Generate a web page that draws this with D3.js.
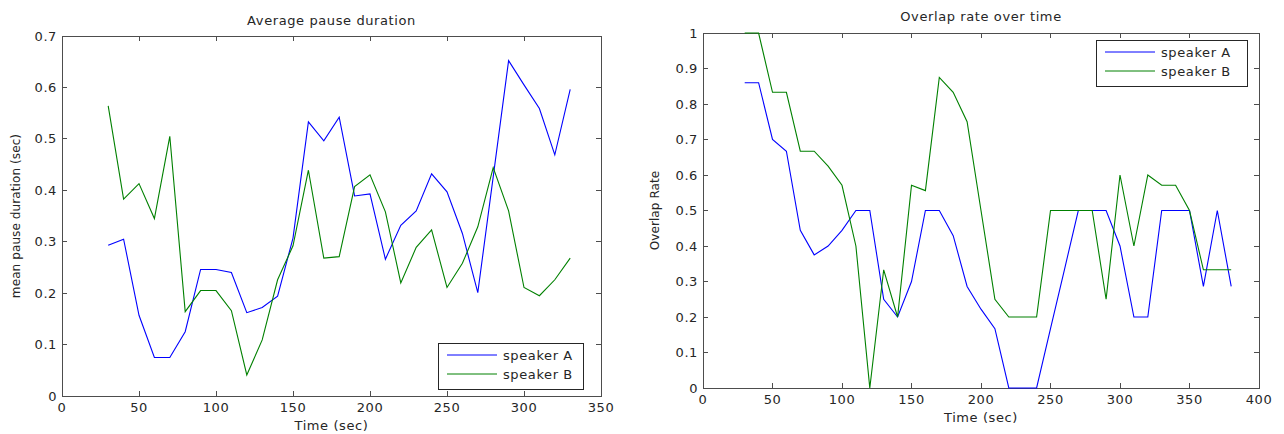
<!DOCTYPE html>
<html lang="en">
<head>
    <meta charset="UTF-8">
    <title>Average pause duration / Overlap rate over time</title>
    <script src="https://d3js.org/d3.v7.min.js"></script>
    <style>
        body {
            margin: 0;
            background: white;
        }
        svg text {
            font-family: "DejaVu Sans", Arial, sans-serif;
            font-size: 13px;
            letter-spacing: 0.6px;
            fill: #262626;
        }
        svg text.ylabel {
            font-size: 12px;
            letter-spacing: 0.1px;
        }
    </style>
</head>
<body>
    <svg width="1284" height="434"></svg>

    <script>
        // left chart: mean pause duration, one value every 10 s
        const pauseTimes = d3.range(30, 331, 10);
        const pauseA = [0.293, 0.305, 0.157, 0.075, 0.075, 0.125, 0.246, 0.246, 0.240, 0.162,
                        0.172, 0.194, 0.307, 0.533, 0.496, 0.542, 0.389, 0.393, 0.266, 0.332,
                        0.360, 0.432, 0.397, 0.316, 0.201, 0.426, 0.652, 0.605, 0.559, 0.469, 0.596];
        const pauseB = [0.564, 0.383, 0.413, 0.345, 0.505, 0.164, 0.205, 0.205, 0.166, 0.041,
                        0.109, 0.226, 0.292, 0.439, 0.268, 0.271, 0.407, 0.430, 0.358, 0.220,
                        0.289, 0.323, 0.211, 0.258, 0.329, 0.444, 0.360, 0.211, 0.195, 0.226, 0.268];
        const pauseXTicks = [0, 50, 100, 150, 200, 250, 300, 350];
        const pauseYTicks = [0, 0.1, 0.2, 0.3, 0.4, 0.5, 0.6, 0.7];

        // right chart: overlap rate
        const overlapTimes = d3.range(30, 381, 10);
        const overlapA = [0.86, 0.86, 0.70, 0.667, 0.444, 0.375, 0.40, 0.444, 0.50, 0.50,
                          0.25, 0.20, 0.30, 0.50, 0.50, 0.429, 0.286, 0.222, 0.167, 0, 0, 0,
                          0.167, 0.333, 0.50, 0.50, 0.50, 0.40, 0.20, 0.20, 0.50, 0.50, 0.50,
                          0.286, 0.50, 0.286];
        const overlapB = [1, 1, 0.833, 0.833, 0.667, 0.667, 0.625, 0.571, 0.40, 0,
                          0.333, 0.20, 0.571, 0.556, 0.875, 0.833, 0.75, 0.50, 0.25, 0.20, 0.20, 0.20,
                          0.50, 0.50, 0.50, 0.50, 0.25, 0.60, 0.40, 0.60, 0.571, 0.571, 0.50,
                          0.333, 0.333, 0.333];
        const overlapXTicks = [0, 50, 100, 150, 200, 250, 300, 350, 400];
        const overlapYTicks = [0, 0.1, 0.2, 0.3, 0.4, 0.5, 0.6, 0.7, 0.8, 0.9, 1];

        const seriesNames = ["speaker A", "speaker B"];
        const seriesColors = ["#0000ff", "#008000"];

        const svg = d3.select("svg");

        function drawPanel(p) {
            const x = d3.scaleLinear().domain(p.xDomain).range([p.left, p.right]);
            const y = d3.scaleLinear().domain(p.yDomain).range([p.bottom, p.top]);
            const g = svg.append("g");
            const axisColor = "#4d4d4d";

            // ticks pointing inward on all four sides (matlab style)
            const tickLen = 5;
            p.xTicks.forEach(t => {
                g.append("line").attr("x1", x(t)).attr("x2", x(t))
                 .attr("y1", p.bottom).attr("y2", p.bottom - tickLen)
                 .attr("stroke", axisColor).attr("shape-rendering", "crispEdges");
                g.append("line").attr("x1", x(t)).attr("x2", x(t))
                 .attr("y1", p.top).attr("y2", p.top + tickLen)
                 .attr("stroke", axisColor).attr("shape-rendering", "crispEdges");
                g.append("text").attr("x", x(t)).attr("y", p.bottom + 16)
                 .attr("text-anchor", "middle").text(t);
            });
            p.yTicks.forEach(t => {
                g.append("line").attr("x1", p.left).attr("x2", p.left + tickLen)
                 .attr("y1", y(t)).attr("y2", y(t))
                 .attr("stroke", axisColor).attr("shape-rendering", "crispEdges");
                g.append("line").attr("x1", p.right).attr("x2", p.right - tickLen)
                 .attr("y1", y(t)).attr("y2", y(t))
                 .attr("stroke", axisColor).attr("shape-rendering", "crispEdges");
                g.append("text").attr("x", p.left - 5).attr("y", y(t) + 4.5)
                 .attr("text-anchor", "end").text(t);
            });

            g.append("rect")
             .attr("x", p.left).attr("y", p.top)
             .attr("width", p.right - p.left).attr("height", p.bottom - p.top)
             .attr("fill", "none").attr("stroke", axisColor)
             .attr("shape-rendering", "crispEdges");

            const line = d3.line()
                .x(d => x(d[0]))
                .y(d => y(d[1]));

            p.series.forEach((vals, i) => {
                g.append("path")
                 .datum(p.times.map((t, k) => [t, vals[k]]))
                 .attr("d", line)
                 .attr("fill", "none")
                 .attr("stroke", seriesColors[i])
                 .attr("stroke-width", 1.1);
            });

            // titles and labels
            g.append("text").attr("x", (p.left + p.right) / 2).attr("y", p.titleY)
             .attr("text-anchor", "middle").text(p.title);
            g.append("text").attr("x", (p.left + p.right) / 2).attr("y", p.xLabelY)
             .attr("text-anchor", "middle").text("Time (sec)");
            g.append("text").attr("class", "ylabel")
             .attr("transform", `translate(${p.yLabelX},${(p.top + p.bottom) / 2}) rotate(-90)`)
             .attr("text-anchor", "middle").text(p.yLabel);

            // legend
            const lg = g.append("g").attr("transform", `translate(${p.legend.x},${p.legend.y})`);
            lg.append("rect").attr("width", p.legend.w).attr("height", 46)
              .attr("fill", "white").attr("stroke", "#262626")
              .attr("shape-rendering", "crispEdges");
            seriesNames.forEach((name, i) => {
                const ly = 12 + i * 19;
                lg.append("line").attr("x1", 9).attr("x2", 59)
                  .attr("y1", ly).attr("y2", ly)
                  .attr("stroke", seriesColors[i]);
                lg.append("text").attr("x", 65).attr("y", ly + 4.5).text(name);
            });
        }

        drawPanel({
            left: 62, right: 601, top: 36, bottom: 396,
            xDomain: [0, 350], yDomain: [0, 0.7],
            xTicks: pauseXTicks, yTicks: pauseYTicks,
            times: pauseTimes, series: [pauseA, pauseB],
            title: "Average pause duration", titleY: 25,
            xLabelY: 430, yLabelX: 20,
            yLabel: "mean pause duration (sec)",
            legend: { x: 438, y: 343, w: 145 }
        });

        drawPanel({
            left: 703, right: 1259, top: 33, bottom: 388,
            xDomain: [0, 400], yDomain: [0, 1],
            xTicks: overlapXTicks, yTicks: overlapYTicks,
            times: overlapTimes, series: [overlapA, overlapB],
            title: "Overlap rate over time", titleY: 21,
            xLabelY: 422, yLabelX: 659,
            yLabel: "Overlap Rate",
            legend: { x: 1096, y: 40, w: 151 }
        });
    </script>
</body>
</html>
